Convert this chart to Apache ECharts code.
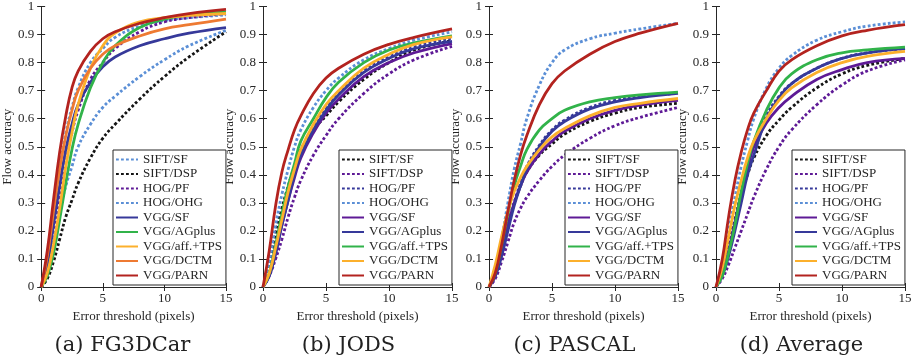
<!DOCTYPE html>
<html>
<head>
<meta charset="utf-8">
<script src="https://cdn.jsdelivr.net/npm/echarts@6/dist/echarts.min.js"></script>
<style>
  html, body { margin: 0; padding: 0; background: #fff; }
  #chart { width: 917px; height: 359px; }
</style>
</head>
<body>
<div id="chart"></div>
<script>
// error thresholds (pixels) sampled along every curve
const thresholds = [0, 0.5, 1, 1.5, 2, 2.5, 3, 4, 5, 6, 8, 10, 12, 15];

const methodNames = [
  "SIFT/SF", "SIFT/DSP", "HOG/PF", "HOG/OHG", "VGG/SF",
  "VGG/AGplus", "VGG/aff.+TPS", "VGG/DCTM", "VGG/PARN",
];

const panelCaptions = ["(a) FG3DCar", "(b) JODS", "(c) PASCAL", "(d) Average"];

// flow accuracy per method, in methodNames order
const fg3dcarValues = [
  [0, 0.10, 0.26, 0.42, 0.55, 0.64, 0.71, 0.80, 0.85, 0.89, 0.93, 0.95, 0.96, 0.97],
  [0, 0.03, 0.09, 0.17, 0.25, 0.31, 0.37, 0.46, 0.53, 0.58, 0.67, 0.75, 0.82, 0.91],
  [0, 0.06, 0.17, 0.31, 0.44, 0.55, 0.63, 0.74, 0.80, 0.85, 0.91, 0.945, 0.96, 0.975],
  [0, 0.06, 0.16, 0.27, 0.36, 0.43, 0.50, 0.58, 0.64, 0.68, 0.75, 0.81, 0.86, 0.915],
  [0, 0.08, 0.22, 0.36, 0.49, 0.58, 0.65, 0.73, 0.785, 0.82, 0.86, 0.885, 0.905, 0.925],
  [0, 0.04, 0.12, 0.24, 0.37, 0.49, 0.58, 0.71, 0.80, 0.86, 0.925, 0.955, 0.97, 0.98],
  [0, 0.05, 0.15, 0.28, 0.43, 0.55, 0.65, 0.78, 0.86, 0.905, 0.945, 0.96, 0.968, 0.975],
  [0, 0.11, 0.27, 0.42, 0.54, 0.63, 0.70, 0.78, 0.83, 0.86, 0.895, 0.92, 0.935, 0.955],
  [0, 0.13, 0.31, 0.48, 0.61, 0.71, 0.77, 0.84, 0.885, 0.91, 0.94, 0.96, 0.975, 0.99],
];

const jodsValues = [
  [0, 0.08, 0.19, 0.28, 0.36, 0.43, 0.49, 0.56, 0.61, 0.66, 0.74, 0.80, 0.845, 0.878],
  [0, 0.04, 0.10, 0.17, 0.25, 0.32, 0.38, 0.47, 0.54, 0.60, 0.69, 0.76, 0.81, 0.858],
  [0, 0.06, 0.15, 0.25, 0.34, 0.42, 0.48, 0.57, 0.635, 0.69, 0.77, 0.82, 0.855, 0.887],
  [0, 0.09, 0.22, 0.33, 0.42, 0.50, 0.56, 0.64, 0.70, 0.745, 0.81, 0.85, 0.88, 0.91],
  [0, 0.04, 0.12, 0.22, 0.31, 0.39, 0.46, 0.55, 0.62, 0.67, 0.75, 0.80, 0.835, 0.868],
  [0, 0.04, 0.12, 0.22, 0.31, 0.40, 0.47, 0.56, 0.63, 0.685, 0.765, 0.815, 0.85, 0.876],
  [0, 0.05, 0.15, 0.26, 0.36, 0.44, 0.52, 0.60, 0.675, 0.73, 0.80, 0.845, 0.87, 0.895],
  [0, 0.05, 0.14, 0.24, 0.34, 0.42, 0.49, 0.58, 0.65, 0.70, 0.78, 0.83, 0.865, 0.892],
  [0, 0.13, 0.29, 0.41, 0.49, 0.56, 0.61, 0.69, 0.745, 0.78, 0.83, 0.865, 0.89, 0.92],
];

const pascalValues = [
  [0, 0.05, 0.13, 0.22, 0.30, 0.36, 0.41, 0.47, 0.51, 0.545, 0.59, 0.62, 0.64, 0.655],
  [0, 0.03, 0.09, 0.16, 0.23, 0.28, 0.32, 0.38, 0.43, 0.47, 0.53, 0.575, 0.605, 0.64],
  [0, 0.04, 0.12, 0.21, 0.30, 0.37, 0.43, 0.505, 0.56, 0.595, 0.64, 0.665, 0.68, 0.69],
  [0, 0.06, 0.17, 0.30, 0.42, 0.51, 0.60, 0.72, 0.80, 0.845, 0.885, 0.905, 0.92, 0.94],
  [0, 0.04, 0.12, 0.22, 0.30, 0.36, 0.41, 0.475, 0.52, 0.555, 0.60, 0.63, 0.648, 0.665],
  [0, 0.04, 0.11, 0.20, 0.29, 0.36, 0.42, 0.50, 0.555, 0.59, 0.635, 0.66, 0.675, 0.69],
  [0, 0.05, 0.15, 0.26, 0.36, 0.43, 0.49, 0.56, 0.60, 0.63, 0.66, 0.675, 0.685, 0.695],
  [0, 0.08, 0.18, 0.27, 0.34, 0.39, 0.43, 0.49, 0.535, 0.565, 0.61, 0.64, 0.655, 0.672],
  [0, 0.05, 0.15, 0.27, 0.38, 0.47, 0.54, 0.65, 0.725, 0.77, 0.83, 0.875, 0.905, 0.94],
];

const averageValues = [
  [0, 0.06, 0.15, 0.24, 0.33, 0.40, 0.46, 0.54, 0.595, 0.64, 0.71, 0.76, 0.79, 0.815],
  [0, 0.03, 0.08, 0.14, 0.20, 0.26, 0.32, 0.42, 0.50, 0.56, 0.65, 0.72, 0.77, 0.81],
  [0, 0.05, 0.13, 0.23, 0.33, 0.42, 0.50, 0.61, 0.68, 0.725, 0.78, 0.815, 0.835, 0.85],
  [0, 0.08, 0.20, 0.32, 0.43, 0.52, 0.60, 0.71, 0.78, 0.825, 0.88, 0.91, 0.93, 0.945],
  [0, 0.05, 0.13, 0.23, 0.33, 0.42, 0.50, 0.585, 0.64, 0.68, 0.74, 0.775, 0.80, 0.815],
  [0, 0.04, 0.11, 0.20, 0.30, 0.40, 0.47, 0.60, 0.675, 0.725, 0.78, 0.815, 0.835, 0.85],
  [0, 0.04, 0.12, 0.22, 0.34, 0.44, 0.52, 0.63, 0.71, 0.76, 0.81, 0.835, 0.845, 0.855],
  [0, 0.07, 0.18, 0.29, 0.38, 0.46, 0.52, 0.60, 0.665, 0.71, 0.765, 0.80, 0.822, 0.84],
  [0, 0.10, 0.25, 0.38, 0.48, 0.56, 0.62, 0.70, 0.77, 0.81, 0.86, 0.895, 0.915, 0.935],
];

const panelValues = [fg3dcarValues, jodsValues, pascalValues, averageValues];

// line styles
const lightBlue = "#5b8fd6";
const black = "#141414";
const purple = "#5e1a96";
const navy = "#36399a";
const green = "#31b34a";
const yellow = "#fcb02c";
const orange = "#ee7a32";
const darkRed = "#b3231f";

const dot = (color) => ({ color, type: [2.8, 2.2], width: 2.8 });
const solid = (color) => ({ color, type: "solid", width: 2.8 });

const fg3dcarStyles = [
  dot(lightBlue), dot(black), dot(purple), dot(lightBlue), solid(navy),
  solid(green), solid(yellow), solid(orange), solid(darkRed),
];
const otherStyles = [
  dot(black), dot(purple), dot(navy), dot(lightBlue), solid(purple),
  solid(navy), solid(green), solid(yellow), solid(darkRed),
];
const panelStyles = [fg3dcarStyles, otherStyles, otherStyles, otherStyles];

const gridLefts = [37, 263, 489, 716];
const gridWidth = 189;
const gridTop = 6;
const gridHeight = 281;

const serif = "Liberation Serif";
const ink = "#262626";

const grids = [], xAxes = [], yAxes = [], legends = [], series = [], captions = [];

gridLefts.forEach((left, p) => {
  grids.push({ left, top: gridTop, width: gridWidth, height: gridHeight });

  const xBase = {
    gridIndex: p, type: "value", min: 0, max: 15, interval: 5,
    axisLine: { lineStyle: { color: ink, width: 1 } },
    axisTick: { inside: true, length: 4, lineStyle: { color: ink } },
    splitLine: { show: false },
  };
  xAxes.push({
    ...xBase,
    axisLabel: { color: ink, fontFamily: serif, fontSize: 13, margin: 5 },
    name: "Error threshold (pixels)",
    nameLocation: "middle",
    nameGap: 19,
    nameTextStyle: { color: ink, fontFamily: serif, fontSize: 13 },
  });
  xAxes.push({ ...xBase, position: "top", axisLabel: { show: false } });

  const yBase = {
    gridIndex: p, type: "value", min: 0, max: 1, interval: 0.1,
    axisLine: { show: true, lineStyle: { color: ink, width: 1 } },
    axisTick: { show: true, inside: true, length: 4, lineStyle: { color: ink } },
    splitLine: { show: false },
  };
  yAxes.push({
    ...yBase,
    axisLabel: { color: ink, fontFamily: serif, fontSize: 13, margin: 7 },
    name: "Flow accuracy",
    nameLocation: "middle",
    nameGap: 22,
    nameTextStyle: { color: ink, fontFamily: serif, fontSize: 13 },
  });
  yAxes.push({ ...yBase, position: "right", axisLabel: { show: false } });

  const tag = "p" + p + "|";
  methodNames.forEach((name, m) => {
    series.push({
      name: tag + name,
      type: "line",
      xAxisIndex: 2 * p,
      yAxisIndex: 2 * p,
      data: thresholds.map((t, k) => [t, panelValues[p][m][k]]),
      smooth: 0.45,
      symbol: "none",
      lineStyle: { ...panelStyles[p][m], cap: "butt" },
      itemStyle: { color: panelStyles[p][m].color },
      emphasis: { disabled: true },
      z: 2 + m,
    });
  });

  legends.push({
    data: methodNames.map((n) => tag + n),
    formatter: (n) => n.split("|")[1],
    orient: "vertical",
    left: left + 76,
    top: 150,
    itemWidth: 22,
    itemHeight: 12,
    itemGap: 1.5,
    padding: [3, 4, 3, 2],
    backgroundColor: "#fff",
    borderColor: ink,
    borderWidth: 1,
    borderRadius: 0,
    selectedMode: false,
    itemStyle: { opacity: 0, borderWidth: 0 },
    textStyle: { color: ink, fontFamily: serif, fontSize: 13, lineHeight: 13 },
    z: 20,
  });

  captions.push({
    type: "text",
    x: left + gridWidth / 2 - 9,
    y: 335,
    style: {
      text: panelCaptions[p],
      fill: "#222",
      font: '21px "DejaVu Serif"',
      textAlign: "center",
    },
  });
});

const chart = echarts.init(document.getElementById("chart"), null, { renderer: "canvas" });
chart.setOption({
  animation: false,
  backgroundColor: "#fff",
  grid: grids,
  xAxis: xAxes,
  yAxis: yAxes,
  legend: legends,
  series,
  graphic: captions,
});
</script>
</body>
</html>
